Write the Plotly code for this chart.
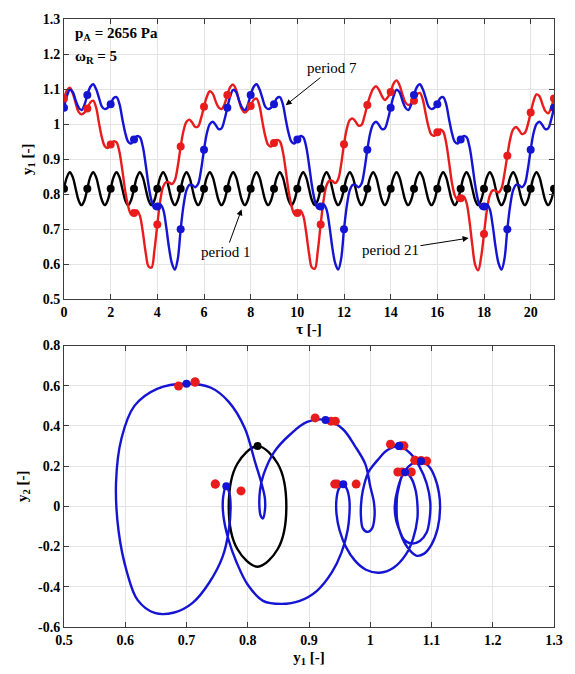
import numpy as np
import plotly.graph_objects as go

# sample grid (1/8 of forcing period), tau from 0 to 21
tau = np.linspace(0, 21, 169)

# ---- period-1 response (black) ----
black_y1 = [
 0.816,0.849,0.863,0.849,0.816,0.783,0.769,0.783,
 0.816,0.849,0.863,0.849,0.816,0.783,0.769,0.783,
 0.816,0.849,0.863,0.849,0.816,0.783,0.769,0.783,
 0.816,0.849,0.863,0.849,0.816,0.783,0.769,0.783,
 0.816,0.849,0.863,0.849,0.816,0.783,0.769,0.783,
 0.816,0.849,0.863,0.849,0.816,0.783,0.769,0.783,
 0.816,0.849,0.863,0.849,0.816,0.783,0.769,0.783,
 0.816,0.849,0.863,0.849,0.816,0.783,0.769,0.783,
 0.816,0.849,0.863,0.849,0.816,0.783,0.769,0.783,
 0.816,0.849,0.863,0.849,0.816,0.783,0.769,0.783,
 0.816,0.849,0.863,0.849,0.816,0.783,0.769,0.783,
 0.816,0.849,0.863,0.849,0.816,0.783,0.769,0.783,
 0.816,0.849,0.863,0.849,0.816,0.783,0.769,0.783,
 0.816,0.849,0.863,0.849,0.816,0.783,0.769,0.783,
 0.816,0.849,0.863,0.849,0.816,0.783,0.769,0.783,
 0.816,0.849,0.863,0.849,0.816,0.783,0.769,0.783,
 0.816,0.849,0.863,0.849,0.816,0.783,0.769,0.783,
 0.816,0.849,0.863,0.849,0.816,0.783,0.769,0.783,
 0.816,0.849,0.863,0.849,0.816,0.783,0.769,0.783,
 0.816,0.849,0.863,0.849,0.816,0.783,0.769,0.783,
 0.816,0.849,0.863,0.849,0.816,0.783,0.769,0.783,
 0.816]
# period-1 orbit in the phase plane (y1, y2)
black_ph_y1 = [0.816,0.849,0.863,0.849,0.816,0.783,0.769,0.783,0.816]
black_ph_y2 = [0.300,0.212,0.000,-0.212,-0.300,-0.212,0.000,0.212,0.300]

# ---- period-7 response (blue) ----
blue_y1 = [
 1.047,1.080,1.098,1.092,1.068,1.048,1.040,1.055,
 1.083,1.106,1.114,1.100,1.075,1.050,1.043,1.047,
 1.057,1.074,1.077,1.058,1.015,0.975,0.950,0.945,
 0.956,0.966,0.963,0.937,0.885,0.825,0.782,0.760,
 0.765,0.772,0.757,0.710,0.648,0.603,0.585,0.615,
 0.700,0.769,0.812,0.827,0.826,0.820,0.830,0.870,
 0.927,0.975,1.000,1.007,0.998,0.986,0.988,1.012,
 1.047,1.080,1.098,1.092,1.068,1.048,1.040,1.055,
 1.083,1.106,1.114,1.100,1.075,1.050,1.043,1.047,
 1.057,1.074,1.077,1.058,1.015,0.975,0.950,0.945,
 0.956,0.966,0.963,0.937,0.885,0.825,0.782,0.760,
 0.765,0.772,0.757,0.710,0.648,0.603,0.585,0.615,
 0.700,0.769,0.812,0.827,0.826,0.820,0.830,0.870,
 0.927,0.975,1.000,1.007,0.998,0.986,0.988,1.012,
 1.047,1.080,1.098,1.092,1.068,1.048,1.040,1.055,
 1.083,1.106,1.114,1.100,1.075,1.050,1.043,1.047,
 1.057,1.074,1.077,1.058,1.015,0.975,0.950,0.945,
 0.956,0.966,0.963,0.937,0.885,0.825,0.782,0.760,
 0.765,0.772,0.757,0.710,0.648,0.603,0.585,0.615,
 0.700,0.769,0.812,0.827,0.826,0.820,0.830,0.870,
 0.927,0.975,1.000,1.007,0.998,0.986,0.988,1.012,
 1.047]
# period-7 orbit in the phase plane, every 1/16 of the forcing period (tau 0..7)
blue_ph_y1 = [
 1.047,1.065,1.080,1.092,1.098,1.097,1.092,1.081,1.068,1.055,1.048,1.042,1.040,1.045,1.055,1.068,
 1.083,1.097,1.106,1.112,1.114,1.110,1.100,1.088,1.075,1.061,1.050,1.044,1.043,1.044,1.047,1.051,
 1.057,1.067,1.074,1.077,1.077,1.070,1.058,1.038,1.015,0.993,0.975,0.960,0.950,0.945,0.945,0.949,
 0.956,0.962,0.966,0.966,0.963,0.953,0.937,0.913,0.885,0.855,0.825,0.800,0.782,0.768,0.760,0.760,
 0.765,0.770,0.772,0.769,0.759,0.737,0.710,0.680,0.648,0.620,0.603,0.589,0.585,0.594,0.615,0.652,
 0.700,0.740,0.769,0.795,0.812,0.822,0.828,0.828,0.825,0.821,0.819,0.820,0.826,0.843,0.870,0.897,
 0.927,0.955,0.975,0.992,1.000,1.006,1.007,1.003,0.996,0.988,0.985,0.985,0.988,0.997,1.012,1.028,
 1.047]
blue_ph_y2 = [
 0.300,0.265,0.200,0.115,0.020,-0.060,-0.130,-0.172,-0.185,-0.165,-0.120,-0.065,0.000,0.090,0.170,0.212,
 0.225,0.195,0.140,0.070,-0.010,-0.110,-0.190,-0.235,-0.245,-0.205,-0.140,-0.070,0.000,0.055,0.100,0.145,
 0.170,0.140,0.080,0.010,-0.060,-0.160,-0.240,-0.305,-0.330,-0.315,-0.270,-0.200,-0.120,-0.040,0.040,0.090,
 0.110,0.085,0.030,-0.040,-0.120,-0.230,-0.330,-0.420,-0.470,-0.485,-0.470,-0.390,-0.280,-0.160,-0.040,0.050,
 0.100,0.065,0.000,-0.120,-0.250,-0.380,-0.480,-0.528,-0.530,-0.465,-0.330,-0.120,0.120,0.340,0.500,0.585,
 0.610,0.590,0.520,0.390,0.220,0.120,0.040,-0.020,-0.060,-0.045,0.000,0.080,0.160,0.270,0.360,0.420,
 0.430,0.385,0.300,0.210,0.100,0.020,-0.050,-0.110,-0.127,-0.110,-0.060,0.010,0.080,0.170,0.230,0.280,
 0.300]

# ---- period-21 response (red) ----
red_y1 = [
 1.073,1.096,1.104,1.088,1.060,1.035,1.028,1.033,
 1.045,1.062,1.067,1.048,1.003,0.962,0.937,0.932,
 0.942,0.951,0.948,0.921,0.869,0.809,0.766,0.743,
 0.747,0.754,0.739,0.694,0.634,0.594,0.591,0.640,
 0.714,0.782,0.822,0.835,0.834,0.829,0.840,0.880,
 0.936,0.982,1.007,1.013,1.004,0.992,0.994,1.017,
 1.050,1.079,1.094,1.087,1.065,1.048,1.043,1.056,
 1.083,1.106,1.113,1.098,1.068,1.042,1.033,1.040,
 1.052,1.069,1.073,1.053,1.008,0.966,0.941,0.936,
 0.946,0.955,0.951,0.923,0.870,0.810,0.767,0.744,
 0.747,0.754,0.739,0.693,0.632,0.591,0.588,0.638,
 0.714,0.783,0.825,0.839,0.838,0.832,0.843,0.884,
 0.943,0.988,1.012,1.016,1.007,0.996,0.998,1.022,
 1.055,1.082,1.101,1.108,1.098,1.080,1.069,1.077,
 1.092,1.116,1.125,1.112,1.086,1.063,1.055,1.058,
 1.067,1.084,1.089,1.071,1.030,0.992,0.970,0.967,
 0.977,0.985,0.979,0.948,0.893,0.833,0.797,0.783,
 0.789,0.794,0.776,0.725,0.655,0.598,0.583,0.620,
 0.687,0.755,0.797,0.811,0.810,0.805,0.817,0.858,
 0.910,0.958,0.985,0.992,0.983,0.972,0.975,0.998,
 1.033,1.066,1.085,1.080,1.058,1.038,1.031,1.047,
 1.073]
# y2 of the red Poincare points at tau = 0,1,...,21
red_y2_dots = [0.229,0.171,0.111,0.111,0.619,0.424,0.301,
               0.228,0.171,0.111,0.111,0.619,0.424,0.301,
               0.226,0.171,0.111,0.077,0.599,0.440,0.309,
               0.229]

# tick labels
top_x_ticks = [0, 2, 4, 6, 8, 10, 12, 14, 16, 18, 20]
top_y_ticks = [0.5, 0.6, 0.7, 0.8, 0.9, 1.0, 1.1, 1.2, 1.3]
top_y_text = ["0.5", "0.6", "0.7", "0.8", "0.9", "1", "1.1", "1.2", "1.3"]
bot_x_ticks = [0.5, 0.6, 0.7, 0.8, 0.9, 1.0, 1.1, 1.2, 1.3]
bot_x_text = ["0.5", "0.6", "0.7", "0.8", "0.9", "1", "1.1", "1.2", "1.3"]
bot_y_ticks = [-0.6, -0.4, -0.2, 0.0, 0.2, 0.4, 0.6, 0.8]
bot_y_text = ["-0.6", "-0.4", "-0.2", "0", "0.2", "0.4", "0.6", "0.8"]

BLUE = "#1414d2"
RED = "#e81c1c"
BLACK = "#000000"
FONT = "Liberation Serif"

tau_int = tau[::8]
fig = go.Figure()

# ---------- top panel: time histories ----------
for ys, col in ((black_y1, BLACK), (red_y1, RED), (blue_y1, BLUE)):
    fig.add_trace(go.Scatter(x=tau, y=ys, mode="lines",
                             line=dict(color=col, width=2.4, shape="spline", smoothing=1.0),
                             xaxis="x", yaxis="y", hoverinfo="skip"))
for ys, col in ((black_y1, BLACK), (red_y1, RED), (blue_y1, BLUE)):
    fig.add_trace(go.Scatter(x=tau_int, y=np.array(ys)[::8], mode="markers",
                             marker=dict(color=col, size=8),
                             xaxis="x", yaxis="y", hoverinfo="skip"))

# ---------- bottom panel: phase portrait ----------
fig.add_trace(go.Scatter(x=black_ph_y1, y=black_ph_y2, mode="lines",
                         line=dict(color=BLACK, width=2.4, shape="spline", smoothing=1.0),
                         xaxis="x2", yaxis="y2", hoverinfo="skip"))
fig.add_trace(go.Scatter(x=blue_ph_y1, y=blue_ph_y2, mode="lines",
                         line=dict(color=BLUE, width=2.4, shape="spline", smoothing=1.0),
                         xaxis="x2", yaxis="y2", hoverinfo="skip"))
fig.add_trace(go.Scatter(x=np.array(red_y1)[::8], y=red_y2_dots, mode="markers",
                         marker=dict(color=RED, size=9),
                         xaxis="x2", yaxis="y2", hoverinfo="skip"))
fig.add_trace(go.Scatter(x=blue_ph_y1[::16], y=blue_ph_y2[::16], mode="markers",
                         marker=dict(color=BLUE, size=8),
                         xaxis="x2", yaxis="y2", hoverinfo="skip"))
fig.add_trace(go.Scatter(x=[black_ph_y1[0]], y=[black_ph_y2[0]], mode="markers",
                         marker=dict(color=BLACK, size=8),
                         xaxis="x2", yaxis="y2", hoverinfo="skip"))

axis_common = dict(showline=True, linecolor="#3c3c3c", linewidth=1, mirror="ticks",
                   ticks="inside", ticklen=5, tickcolor="#3c3c3c",
                   showgrid=True, gridcolor="#e4e4e4", gridwidth=1, zeroline=False,
                   tickfont=dict(family=FONT, size=14, color="black", weight="bold"))
title_font = dict(family=FONT, size=15, color="black", weight="bold")

fig.update_layout(
    width=575, height=674,
    margin=dict(l=64, r=17, t=14, b=40),
    plot_bgcolor="white", paper_bgcolor="white",
    showlegend=False,
    font=dict(family=FONT, size=14, color="black"),
    xaxis=dict(domain=[0, 1], range=[0, 21], anchor="y", tickvals=top_x_ticks,
               title=dict(text="τ [-]", font=title_font, standoff=4), **axis_common),
    yaxis=dict(domain=[0.5387, 1], range=[0.5, 1.3], anchor="x", tickvals=top_y_ticks,
               ticktext=top_y_text,
               title=dict(text="y<sub>1</sub> [-]", font=title_font, standoff=6), **axis_common),
    xaxis2=dict(domain=[0, 1], range=[0.5, 1.3], anchor="y2", tickvals=bot_x_ticks,
                ticktext=bot_x_text,
                title=dict(text="y<sub>1</sub> [-]", font=title_font, standoff=4), **axis_common),
    yaxis2=dict(domain=[0, 0.4629], range=[-0.6, 0.8], anchor="x2", tickvals=bot_y_ticks,
                ticktext=bot_y_text,
                title=dict(text="y<sub>2</sub> [-]", font=title_font, standoff=6), **axis_common),
)

ann_font_b = dict(family=FONT, size=15, color="black", weight="bold")
ann_font = dict(family=FONT, size=15, color="black")
arrow = dict(showarrow=True, arrowhead=2, arrowsize=1.2, arrowwidth=1, arrowcolor="black",
             xref="x", yref="y", axref="x", ayref="y", font=ann_font, standoff=0)
annotations = [
    dict(x=0.38, y=1.258, xref="x", yref="y", text="p<sub>A</sub> = 2656 Pa",
         showarrow=False, xanchor="left", yanchor="middle", font=ann_font_b),
    dict(x=0.38, y=1.193, xref="x", yref="y", text="ω<sub>R</sub> = 5",
         showarrow=False, xanchor="left", yanchor="middle", font=ann_font_b),
    # labelled arrows: text at (ax, ay), arrow tip at (x, y)
    dict(text="period 7", x=9.50, y=1.054, ax=11.5, ay=1.160, **arrow),
    dict(text="period 1", x=7.61, y=0.757, ax=6.94, ay=0.635, **arrow),
    dict(text="period 21", x=17.34, y=0.675, ax=13.99, ay=0.640, **arrow),
]
fig.update_layout(annotations=annotations)

fig.write_html("out.html")
